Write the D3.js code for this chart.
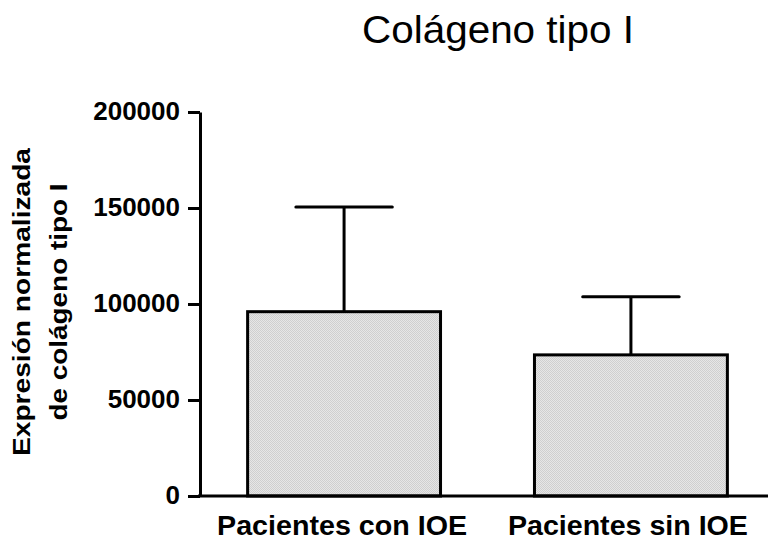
<!DOCTYPE html>
<html>
<head>
<meta charset="utf-8">
<script src="https://cdn.jsdelivr.net/npm/d3@7"></script>
<style>
  html, body { margin: 0; padding: 0; background: #fff; }
  svg { display: block; font-family: "Liberation Sans", Arial, sans-serif; }
</style>
</head>
<body>
<svg id="chart" width="768" height="542"></svg>
<script>
const title = "Colágeno tipo I";
const yLabelLines = ["Expresión normalizada", "de colágeno tipo I"];
const categories = ["Pacientes con IOE", "Pacientes sin IOE"];
const means = [96000, 73500];
const errUpper = [54500, 30300];
const yTicks = [0, 50000, 100000, 150000, 200000];

const svg = d3.select("#chart");

const defs = svg.append("defs");
const pat = defs.append("pattern")
  .attr("id", "stipple").attr("patternUnits", "userSpaceOnUse")
  .attr("width", 2).attr("height", 2);
pat.append("rect").attr("width", 2).attr("height", 2).attr("fill", "#e6e6e6");
pat.append("rect").attr("width", 1).attr("height", 1).attr("fill", "#cfcfcf");
pat.append("rect").attr("x", 1).attr("y", 1).attr("width", 1).attr("height", 1).attr("fill", "#cfcfcf");

const y = d3.scaleLinear().domain([0, 200000]).range([496, 112]);
const x = d3.scaleBand().domain(categories).range([200, 775])
  .paddingInner(0.3275).paddingOuter(0.166);

// error bars
const eb = svg.append("g").attr("stroke", "#000").attr("stroke-width", 3);
categories.forEach((c, i) => {
  const cx = x(c) + x.bandwidth() / 2;
  const top = y(means[i] + errUpper[i]);
  eb.append("line").attr("x1", cx).attr("x2", cx).attr("y1", y(means[i])).attr("y2", top);
  eb.append("line").attr("x1", cx - x.bandwidth() * 0.25).attr("x2", cx + x.bandwidth() * 0.25)
    .attr("y1", top).attr("y2", top).attr("stroke-linecap", "round");
});

// bars
svg.append("g").selectAll("rect").data(categories).join("rect")
  .attr("x", d => x(d))
  .attr("y", (d, i) => y(means[i]))
  .attr("width", x.bandwidth())
  .attr("height", (d, i) => y(0) - y(means[i]))
  .attr("fill", "url(#stipple)")
  .attr("stroke", "#000").attr("stroke-width", 3);

// y axis
const yAxis = svg.append("g").attr("transform", "translate(200,0)")
  .call(d3.axisLeft(y).tickValues(yTicks).tickFormat(d3.format("d"))
    .tickSize(12).tickSizeOuter(0).tickPadding(8));
yAxis.select(".domain").attr("stroke", "#000").attr("stroke-width", 3);
yAxis.selectAll(".tick line").attr("stroke", "#000").attr("stroke-width", 3);
yAxis.selectAll(".tick text")
  .attr("fill", "#000").attr("font-size", 25).attr("font-weight", "bold")
  .attr("font-family", "'Liberation Sans', Arial, sans-serif")
  .attr("dy", "0.3em")
  .each(function () {
    const w = this.getComputedTextLength();
    d3.select(this).attr("textLength", w * 1.04).attr("lengthAdjust", "spacingAndGlyphs");
  });

// x axis
const xLabelWidths = [250, 240];
const xLabelShift = [-2, -3];
const xAxis = svg.append("g").attr("transform", "translate(0,496)")
  .call(d3.axisBottom(x).tickSize(0).tickPadding(0).tickSizeOuter(0));
xAxis.select(".domain").attr("stroke", "#000").attr("stroke-width", 3)
  .attr("d", "M198,0H768");
xAxis.selectAll(".tick text")
  .attr("fill", "#000").attr("font-size", 28).attr("font-weight", "bold")
  .attr("font-family", "'Liberation Sans', Arial, sans-serif")
  .attr("y", 39).attr("dy", 0)
  .attr("x", (d, i) => xLabelShift[i])
  .attr("textLength", (d, i) => xLabelWidths[i]).attr("lengthAdjust", "spacingAndGlyphs");

// y label
const yLabelWidths = [308, 237];
const yLabelBase = [30, 67];
const yl = svg.append("text")
  .attr("transform", "translate(0,302) rotate(-90)")
  .attr("text-anchor", "middle")
  .attr("font-size", 24).attr("font-weight", "bold").attr("fill", "#000");
yLabelLines.forEach((t, i) => {
  yl.append("tspan").attr("x", 0).attr("y", yLabelBase[i])
    .attr("textLength", yLabelWidths[i]).attr("lengthAdjust", "spacingAndGlyphs")
    .text(t);
});

// title
svg.append("text").attr("x", 498).attr("y", 43)
  .attr("text-anchor", "middle").attr("font-size", 39).attr("fill", "#000")
  .attr("textLength", 272).attr("lengthAdjust", "spacingAndGlyphs")
  .text(title);
</script>
</body>
</html>
